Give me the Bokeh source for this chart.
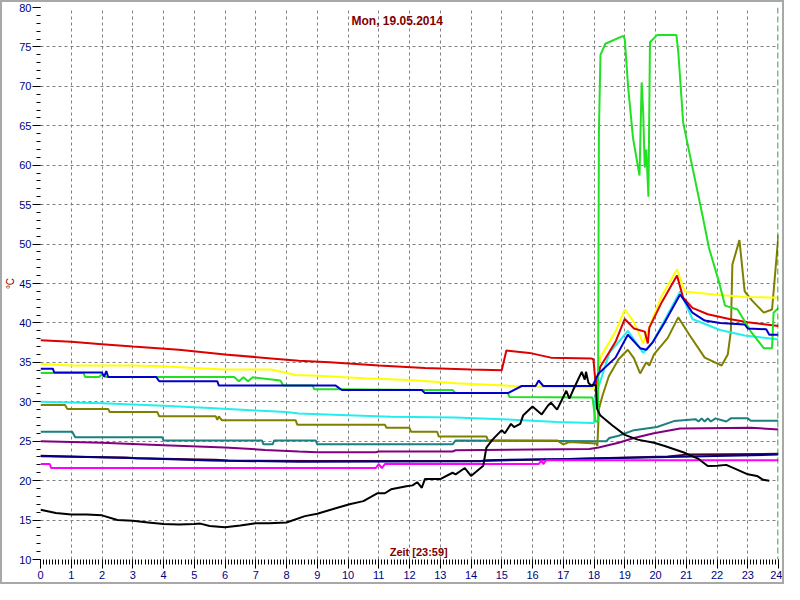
from bokeh.plotting import figure
from bokeh.models import SingleIntervalTicker, FixedTicker, Label, Span
from bokeh.embed import file_html
from bokeh.resources import INLINE

# ---------------- data (hour of day, temperature °C) ----------------
title_text = "Mon, 19.05.2014"
time_text = "Zeit [23:59]"
unit_text = "°C"
now_hour = 23 + 59 / 60

red_x = [0, 1, 2, 3, 4.5, 6, 7.5, 8.4, 9.4, 11, 12.5, 14, 15.0, 15.15, 15.9, 16.6, 17.9, 17.98,
         18.06, 18.2, 18.7, 19.0, 19.3, 19.65, 19.75, 19.8, 20.2, 20.7, 20.9, 21.2, 21.7, 22.4, 23.0, 24]
red_y = [37.8, 37.6, 37.3, 37.0, 36.6, 36.0, 35.5, 35.2, 35.0, 34.6, 34.3, 34.1, 34.0, 36.5, 36.2, 35.6, 35.5, 35.4,
         32.0, 34.4, 37.6, 40.5, 39.3, 38.9, 37.4, 39.4, 42.6, 46.0, 43.2, 41.9, 41.1, 40.5, 40.1, 39.6]

yellow_x = [0, 1, 3, 4, 5, 6, 7.5, 8.3, 9, 10.5, 12, 13.5, 15.4, 16.3, 17.9, 18.05, 18.2, 18.7,
            19.0, 19.3, 19.6, 19.8, 20.2, 20.7, 20.95, 21.9, 22.9, 24]
yellow_y = [34.8, 34.6, 34.6, 34.5, 34.3, 34.1, 34.1, 33.4, 33.3, 33.0, 32.75, 32.35, 32.0, 31.9, 31.8, 31.7, 35.6, 38.9,
            41.7, 40.1, 37.4, 39.5, 43.4, 46.8, 44.0, 43.6, 43.3, 43.2]

blue_x = [0, 0.4, 0.45, 2.0, 2.07, 2.14, 2.2, 3.76, 3.86, 5.75, 5.8, 9.6, 9.8, 12.4, 12.5, 15.2, 15.65,
          16.1, 16.2, 16.35, 17.95, 18.15, 18.7, 19.1, 19.5, 19.7, 19.9, 20.3, 20.8, 21.0, 21.2, 21.6,
          22.1, 22.9, 23.0, 23.6, 23.7, 24]
blue_y = [34.2, 34.2, 33.7, 33.7, 33.2, 33.9, 33.15, 33.15, 32.6, 32.6, 32.05, 32.05, 31.5, 31.5, 31.1, 31.1, 32.0,
          32.0, 32.7, 32.0, 32.0, 33.6, 35.6, 38.5, 36.8, 36.6, 37.5, 40.1, 43.6, 42.5, 41.3, 40.3,
          40.0, 39.8, 39.3, 39.2, 38.5, 38.5]

green_x = [0, 1.4, 1.45, 1.9, 2.0, 2.1, 3.75, 6.3, 6.45, 6.6, 6.75, 6.9, 7.8, 7.9, 8.85, 8.9, 9.8, 12.4,
           13.4, 13.5, 15.2, 15.25, 17.95, 18.05, 18.13, 18.16, 18.21, 18.37, 18.95, 19.0, 19.11, 19.27,
           19.48, 19.55, 19.6, 19.65, 19.7, 19.77, 19.82, 20.05, 20.68, 20.74, 20.9, 21.16, 21.53, 21.74,
           22.05, 22.26, 22.67, 23.1, 23.52, 23.79, 23.84, 24]
green_y = [33.65, 33.65, 33.15, 33.15, 33.5, 33.15, 33.15, 33.15, 32.6, 33.1, 32.6, 33.1, 32.7, 32.05, 32.05, 31.6, 31.6, 31.5,
           31.5, 31.1, 31.1, 30.6, 30.55, 27.5, 27.5, 64.2, 74.0, 75.4, 76.4, 76.0, 69.9, 63.4,
           58.7, 70.5, 66.6, 59.7, 62.0, 56.0, 75.6, 76.5, 76.5, 74.4, 65.4, 60.5, 53.6, 49.5,
           45.4, 42.2, 41.7, 38.9, 36.8, 36.8, 41.3, 41.9]

cyan_x = [0, 1, 2, 4, 5.5, 7, 8, 8.4, 10, 11.4, 13.5, 15, 16.8, 17.95, 18.0, 18.05, 18.5, 19.1, 19.6,
          19.9, 20.8, 21.2, 22.1, 22.9, 24]
cyan_y = [30.0, 29.9, 29.8, 29.5, 29.2, 28.9, 28.7, 28.5, 28.3, 28.1, 28.0, 27.8, 27.45, 27.3, 27.3, 30.7, 36.2, 39.0, 36.2,
          37.5, 44.0, 40.5, 39.1, 38.4, 37.9]

olive_x = [0, 0.8, 0.87, 2.2, 2.25, 3.8, 3.86, 5.7, 5.75, 5.8, 5.9, 8.3, 8.35, 11.2, 11.25, 12.0, 12.05,
           12.9, 12.95, 14.5, 14.55, 16.8, 17.0, 17.2, 18.08, 18.11, 18.16, 18.27, 18.48, 18.8, 19.1,
           19.3, 19.5, 19.7, 19.8, 19.95, 20.4, 20.74, 21.1, 21.6, 22.15, 22.35, 22.45, 22.5, 22.73, 22.9,
           23.15, 23.52, 23.79, 24]
olive_y = [29.6, 29.6, 29.1, 29.1, 28.7, 28.7, 28.15, 28.15, 27.7, 28.15, 27.65, 27.65, 27.1, 27.1, 26.7, 26.7, 26.2,
           26.2, 25.6, 25.6, 25.1, 25.1, 24.6, 24.9, 24.7, 24.4, 29.1, 30.7, 33.2, 35.4, 36.6,
           35.5, 33.6, 35.0, 34.6, 36.0, 38.1, 40.7, 38.5, 35.6, 34.6, 36.0, 38.9, 47.4, 50.5, 44.0,
           42.8, 41.3, 41.7, 51.2]

teal_x = [0, 1.03, 1.13, 3.96, 4.0, 7.2, 7.25, 7.55, 7.6, 8.95, 9.0, 13.4, 13.5, 18.4, 18.5, 18.8,
          19.3, 20.05, 20.6, 21.3, 21.4, 21.5, 21.6, 21.7, 21.8, 21.95, 22.3, 22.45, 23.0, 23.1, 24]
teal_y = [26.2, 26.2, 25.5, 25.5, 25.1, 25.1, 24.6, 24.6, 25.1, 25.1, 24.6, 24.6, 25.1, 25.0, 25.4, 25.7,
          26.4, 26.8, 27.55, 27.8, 27.5, 27.9, 27.5, 27.9, 27.5, 27.9, 27.5, 27.9, 27.9, 27.6, 27.6]

purple_x = [0, 2, 4, 6, 7.3, 8.4, 9.0, 10.9, 11.0, 13.4, 13.5, 17.85, 18.15, 18.8, 19.3, 19.95, 20.8, 23.1, 24]
purple_y = [25.0, 24.8, 24.5, 24.2, 23.9, 23.7, 23.6, 23.6, 23.7, 23.7, 23.85, 24.0, 24.2, 24.8, 25.4, 26.0, 26.6, 26.7, 26.5]

maroon_x = [0, 2.8, 3.1, 5.7, 6.1, 8.9, 10.4, 14.3, 17.2, 20.4, 21.0, 24]
maroon_y = [23.1, 22.95, 22.85, 22.65, 22.55, 22.5, 22.5, 22.5, 22.75, 23.05, 23.3, 23.4]

navy_x = [0, 1.5, 3.5, 5.5, 8.4, 14.3, 14.5, 17.2, 20.4, 24]
navy_y = [23.15, 23.0, 22.8, 22.55, 22.4, 22.46, 22.6, 22.75, 23.0, 23.3]

magenta_x = [0, 0.3, 0.35, 10.9, 11.0, 11.1, 11.2, 16.2, 16.3, 16.35, 16.45, 24]
magenta_y = [22.1, 22.1, 21.6, 21.6, 22.1, 21.6, 22.1, 22.1, 22.6, 22.1, 22.6, 22.6]

black_x = [0, 0.5, 1, 1.5, 2, 2.5, 3, 3.5, 4, 4.5, 5, 5.2, 5.5, 6, 6.5, 7, 7.43, 8, 8.6, 9, 9.6, 10.05,
           10.5, 10.95, 11.2, 11.4, 11.9, 12.1, 12.25, 12.4, 12.5, 13.0, 13.4, 13.5, 13.8, 14.0, 14.4, 14.5,
           14.7, 15.0, 15.1, 15.3, 15.4, 15.6, 15.7, 16.0, 16.3, 16.5, 16.6, 16.8, 17.0, 17.1, 17.2, 17.3,
           17.6, 17.7, 17.74, 17.82, 17.9, 18.06, 18.1, 18.2, 18.6, 19.0, 19.42, 19.95, 20.3, 20.9, 21.4,
           21.7, 22.0, 22.3, 22.6, 23.0, 23.3, 23.5, 23.7]
black_y = [16.3, 15.9, 15.7, 15.7, 15.6, 15.0, 14.9, 14.7, 14.5, 14.45, 14.5, 14.55, 14.25, 14.1, 14.3, 14.6, 14.6, 14.7,
           15.5, 15.8, 16.5, 17.0, 17.4, 18.4, 18.4, 18.9, 19.3, 19.4, 19.8, 19.1, 20.2, 20.2, 21.0, 20.8,
           21.6, 20.6, 21.9, 24.2, 25.2, 26.4, 26.0, 27.2, 26.8, 27.2, 28.3, 29.4, 28.4, 29.5, 29.9,
           29.0, 30.6, 31.4, 30.4, 31.3, 33.8, 32.8, 33.8, 32.4, 32.1, 32.1, 29.1, 28.3, 27.0, 25.8,
           25.2, 24.8, 24.4, 23.6, 22.75, 21.85, 21.9, 22.0, 21.5, 20.8, 20.6, 20.1, 20.0]

series = [
    (maroon_x, maroon_y, "#4A0035"),
    (navy_x, navy_y, "#000080"),
    (magenta_x, magenta_y, "#FF00FF"),
    (purple_x, purple_y, "#800080"),
    (teal_x, teal_y, "#1A8080"),
    (olive_x, olive_y, "#808000"),
    (cyan_x, cyan_y, "#22EEEE"),
    (yellow_x, yellow_y, "#FFFF00"),
    (red_x, red_y, "#DD0000"),
    (green_x, green_y, "#22E022"),
    (blue_x, blue_y, "#0000CC"),
    (black_x, black_y, "#000000"),
]

# ---------------- figure ----------------
FONT = "Liberation Sans"
p = figure(width=784, height=584, x_range=(0, 24), y_range=(10, 80),
           output_backend="svg", toolbar_location=None,
           min_border_left=2, min_border_right=8, min_border_top=5, min_border_bottom=27)
p.styles = {"border": "2px solid #A8A8A8", "box-sizing": "border-box"}
p.background_fill_color = "white"
p.border_fill_color = "white"
p.outline_line_color = None

for xs, ys, col in series:
    p.line(xs, ys, line_color=col, line_width=2)

p.add_layout(Span(location=now_hour, dimension="height", line_color="#008000",
                  line_dash="6 3", line_width=1))

# axes
p.xaxis.ticker = SingleIntervalTicker(interval=1, num_minor_ticks=10)
p.yaxis.ticker = SingleIntervalTicker(interval=5, num_minor_ticks=5)
for ax in (p.xaxis[0], p.yaxis[0]):
    ax.axis_line_color = None
    ax.major_tick_line_color = "black"
    ax.minor_tick_line_color = "black"
    ax.major_tick_in = 0
    ax.minor_tick_in = 0
    ax.major_label_text_color = "#000080"
    ax.major_label_text_font = FONT
    ax.major_label_text_font_size = "11px"
    ax.major_label_standoff = 2
p.xaxis.major_tick_out = 9
p.xaxis.minor_tick_out = 5
p.yaxis.major_tick_out = 8
p.yaxis.minor_tick_out = 4
p.yaxis.major_label_standoff = 1
p.yaxis.axis_label = unit_text
p.yaxis.axis_label_text_color = "#800000"
p.yaxis.axis_label_text_font = FONT
p.yaxis.axis_label_text_font_style = "normal"
p.yaxis.axis_label_text_font_size = "10px"
p.yaxis.axis_label_standoff = 0

# grid
p.xgrid.ticker = FixedTicker(ticks=list(range(1, 24)))
p.ygrid.ticker = FixedTicker(ticks=list(range(15, 80, 5)))
for g in (p.xgrid[0], p.ygrid[0]):
    g.grid_line_color = "#808080"
    g.grid_line_dash = "3 3"
    g.grid_line_width = 1

# texts
p.add_layout(Label(x=11.6, y=78.35, text=title_text, text_font=FONT, text_font_size="12px",
                   text_font_style="bold", text_color="#800000",
                   text_align="center", text_baseline="middle"))
p.add_layout(Label(x=12.3, y=10.9, text=time_text, text_font=FONT, text_font_size="11px",
                   text_font_style="bold", text_color="#800000",
                   text_align="center", text_baseline="middle"))

open("out.html", "w").write(file_html(p, INLINE))
